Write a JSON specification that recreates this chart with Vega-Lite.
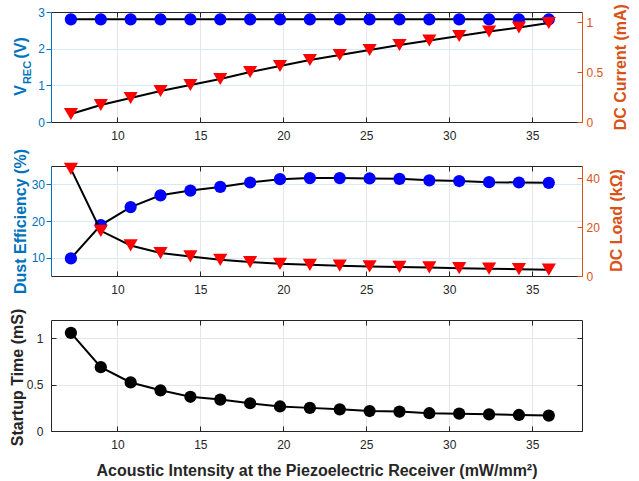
{
  "$schema": "https://vega.github.io/schema/vega-lite/v6.json",
  "background": "white",
  "padding": {"left": 9, "top": 3, "right": 5, "bottom": 4},
  "datasets": {
    "d": [
      {"x": 7.2, "vrec": 2.8, "current": 0.08, "eff": 9.8, "load": 43.8, "startup": 1.06},
      {"x": 9.0, "vrec": 2.8, "current": 0.17, "eff": 18.9, "load": 18.5, "startup": 0.69},
      {"x": 10.8, "vrec": 2.8, "current": 0.24, "eff": 23.8, "load": 12.5, "startup": 0.525},
      {"x": 12.6, "vrec": 2.8, "current": 0.31, "eff": 27.0, "load": 9.4, "startup": 0.44},
      {"x": 14.4, "vrec": 2.8, "current": 0.37, "eff": 28.3, "load": 8.0, "startup": 0.37},
      {"x": 16.2, "vrec": 2.8, "current": 0.43, "eff": 29.3, "load": 6.6, "startup": 0.34},
      {"x": 18.0, "vrec": 2.8, "current": 0.50, "eff": 30.5, "load": 5.7, "startup": 0.30},
      {"x": 19.8, "vrec": 2.8, "current": 0.56, "eff": 31.4, "load": 5.0, "startup": 0.265},
      {"x": 21.6, "vrec": 2.8, "current": 0.62, "eff": 31.7, "load": 4.6, "startup": 0.25},
      {"x": 23.4, "vrec": 2.8, "current": 0.67, "eff": 31.7, "load": 4.2, "startup": 0.234},
      {"x": 25.2, "vrec": 2.8, "current": 0.72, "eff": 31.6, "load": 3.9, "startup": 0.216},
      {"x": 27.0, "vrec": 2.8, "current": 0.77, "eff": 31.5, "load": 3.7, "startup": 0.21},
      {"x": 28.8, "vrec": 2.8, "current": 0.815, "eff": 31.1, "load": 3.5, "startup": 0.192},
      {"x": 30.6, "vrec": 2.8, "current": 0.86, "eff": 30.9, "load": 3.2, "startup": 0.187},
      {"x": 32.4, "vrec": 2.8, "current": 0.905, "eff": 30.6, "load": 3.0, "startup": 0.18},
      {"x": 34.2, "vrec": 2.8, "current": 0.945, "eff": 30.5, "load": 2.8, "startup": 0.173},
      {"x": 36.0, "vrec": 2.8, "current": 0.99, "eff": 30.4, "load": 2.6, "startup": 0.167}
    ]
  },
  "data": {"name": "d"},
  "spacing": 44,
  "bounds": "flush",
  "vconcat": [
    {
      "width": 531,
      "height": 110,
      "layer": [
        {
          "mark": {"type": "line", "color": "black", "strokeWidth": 2},
          "encoding": {
            "x": {"field": "x", "type": "quantitative", "scale": {"domain": [6, 38], "nice": false, "zero": false},
              "axis": {"orient": "bottom", "values": [10, 15, 20, 25, 30, 35], "title": null, "labelColor": "#262626", "labelFlush": false, "tickSize": -5, "tickColor": "#262626", "domainColor": "#262626", "labelPadding": 13, "grid": true, "gridColor": "#e6e6e6"}},
            "y": {"field": "vrec", "type": "quantitative", "scale": {"domain": [0, 3], "nice": false, "zero": false},
              "axis": {"orient": "left", "values": [0, 1, 2, 3], "format": "d", "title": "V\u00a0\u00a0\u00a0\u00a0\u00a0\u00a0(V)", "titleColor": "#0072BD", "titleAngle": -90, "titleX": -30.3, "titleY": 54, "titleAlign": "center", "titleBaseline": "middle", "labelColor": "#0072BD", "tickColor": "#0072BD", "domainColor": "#0072BD", "tickSize": 5, "labelPadding": 1.5, "grid": true, "gridColor": "#d9e9f5"}}
          }
        },
        {
          "mark": {"type": "point", "shape": "circle", "filled": true, "size": 150, "color": "#0000ff", "opacity": 1},
          "encoding": {
            "x": {"field": "x", "type": "quantitative", "scale": {"domain": [6, 38], "nice": false, "zero": false},
              "axis": {"orient": "top", "values": [10, 15, 20, 25, 30, 35], "labels": false, "title": null, "tickSize": -5, "tickColor": "#262626", "domainColor": "#262626", "grid": false}},
            "y": {"field": "vrec", "type": "quantitative", "scale": {"domain": [0, 3], "nice": false, "zero": false},
              "axis": {"orient": "left", "title": "REC", "titleFontSize": 11, "titleColor": "#0072BD", "titleAngle": -90, "titleX": -24, "titleY": 60, "titleAlign": "center", "titleBaseline": "middle", "labels": false, "ticks": false, "domain": false, "grid": false}}
          }
        },
        {
          "mark": {"type": "line", "color": "black", "strokeWidth": 2},
          "encoding": {
            "x": {"field": "x", "type": "quantitative", "scale": {"domain": [6, 38], "nice": false, "zero": false}, "axis": null},
            "y": {"field": "current", "type": "quantitative", "scale": {"domain": [0, 1.1], "nice": false, "zero": false},
              "axis": {"orient": "right", "values": [0, 0.5, 1], "format": ".1~f", "title": "DC Current (mA)", "titleColor": "#D95319", "titleAngle": -90, "titleX": 38.7, "titleY": 54.7, "titleAlign": "center", "titleBaseline": "middle", "labelColor": "#D95319", "tickColor": "#D95319", "domainColor": "#D95319", "tickSize": -5, "labelPadding": 9, "grid": false}}
          }
        },
        {
          "mark": {"type": "point", "shape": "triangle-down", "filled": true, "size": 200, "color": "#ff0000", "opacity": 1},
          "encoding": {
            "x": {"field": "x", "type": "quantitative", "scale": {"domain": [6, 38], "nice": false, "zero": false}, "axis": null},
            "y": {"field": "current", "type": "quantitative", "scale": {"domain": [0, 1.1], "nice": false, "zero": false}, "axis": null}
          }
        }
      ],
      "resolve": {"scale": {"y": "independent"}}
    },
    {
      "width": 531,
      "height": 110,
      "layer": [
        {
          "mark": {"type": "line", "color": "black", "strokeWidth": 2},
          "encoding": {
            "x": {"field": "x", "type": "quantitative", "scale": {"domain": [6, 38], "nice": false, "zero": false},
              "axis": {"orient": "bottom", "values": [10, 15, 20, 25, 30, 35], "title": null, "labelColor": "#262626", "labelFlush": false, "tickSize": -5, "tickColor": "#262626", "domainColor": "#262626", "labelPadding": 13, "grid": true, "gridColor": "#e6e6e6"}},
            "y": {"field": "eff", "type": "quantitative", "scale": {"domain": [5, 35], "nice": false, "zero": false},
              "axis": {"orient": "left", "values": [10, 20, 30], "format": "d", "title": "Dust Efficiency (%)", "titleColor": "#0072BD", "titleAngle": -90, "titleX": -30.3, "titleY": 55, "titleAlign": "center", "titleBaseline": "middle", "labelColor": "#0072BD", "tickColor": "#0072BD", "domainColor": "#0072BD", "tickSize": 5, "labelPadding": 1.5, "grid": true, "gridColor": "#d9e9f5"}}
          }
        },
        {
          "mark": {"type": "point", "shape": "circle", "filled": true, "size": 150, "color": "#0000ff", "opacity": 1},
          "encoding": {
            "x": {"field": "x", "type": "quantitative", "scale": {"domain": [6, 38], "nice": false, "zero": false},
              "axis": {"orient": "top", "values": [10, 15, 20, 25, 30, 35], "labels": false, "title": null, "tickSize": -5, "tickColor": "#262626", "domainColor": "#262626", "grid": false}},
            "y": {"field": "eff", "type": "quantitative", "scale": {"domain": [5, 35], "nice": false, "zero": false}, "axis": null}
          }
        },
        {
          "mark": {"type": "line", "color": "black", "strokeWidth": 2},
          "encoding": {
            "x": {"field": "x", "type": "quantitative", "scale": {"domain": [6, 38], "nice": false, "zero": false}, "axis": null},
            "y": {"field": "load", "type": "quantitative", "scale": {"domain": [0, 45], "nice": false, "zero": false},
              "axis": {"orient": "right", "values": [0, 20, 40], "format": "d", "title": "DC Load (kΩ)", "titleColor": "#D95319", "titleAngle": -90, "titleX": 34.5, "titleY": 54, "titleAlign": "center", "titleBaseline": "middle", "labelColor": "#D95319", "tickColor": "#D95319", "domainColor": "#D95319", "tickSize": -5, "labelPadding": 9, "grid": false}}
          }
        },
        {
          "mark": {"type": "point", "shape": "triangle-down", "filled": true, "size": 200, "color": "#ff0000", "opacity": 1},
          "encoding": {
            "x": {"field": "x", "type": "quantitative", "scale": {"domain": [6, 38], "nice": false, "zero": false}, "axis": null},
            "y": {"field": "load", "type": "quantitative", "scale": {"domain": [0, 45], "nice": false, "zero": false}, "axis": null}
          }
        }
      ],
      "resolve": {"scale": {"y": "independent"}}
    },
    {
      "width": 531,
      "height": 111,
      "layer": [
        {
          "mark": {"type": "line", "color": "black", "strokeWidth": 2},
          "encoding": {
            "x": {"field": "x", "type": "quantitative", "scale": {"domain": [6, 38], "nice": false, "zero": false},
              "axis": {"orient": "bottom", "values": [10, 15, 20, 25, 30, 35], "title": "Acoustic Intensity at the Piezoelectric Receiver (mW/mm²)", "titleColor": "#262626", "titleY": 44, "titleBaseline": "alphabetic", "labelColor": "#262626", "labelFlush": false, "tickSize": -5, "tickColor": "#262626", "domainColor": "#262626", "labelPadding": 13, "grid": true, "gridColor": "#e6e6e6"}},
            "y": {"field": "startup", "type": "quantitative", "scale": {"domain": [0, 1.2], "nice": false, "zero": false},
              "axis": {"orient": "left", "values": [0, 0.5, 1], "format": ".1~f", "title": "Startup Time (mS)", "titleColor": "#262626", "titleAngle": -90, "titleX": -33.7, "titleY": 57, "titleAlign": "center", "titleBaseline": "middle", "labelColor": "#262626", "tickColor": "#262626", "domainColor": "#262626", "tickSize": -5, "labelPadding": 13, "grid": true, "gridColor": "#e6e6e6"}}
          }
        },
        {
          "mark": {"type": "point", "shape": "circle", "filled": true, "size": 150, "color": "#000000", "opacity": 1},
          "encoding": {
            "x": {"field": "x", "type": "quantitative", "scale": {"domain": [6, 38], "nice": false, "zero": false},
              "axis": {"orient": "top", "values": [10, 15, 20, 25, 30, 35], "labels": false, "title": null, "tickSize": -5, "tickColor": "#262626", "domainColor": "#262626", "grid": false}},
            "y": {"field": "startup", "type": "quantitative", "scale": {"domain": [0, 1.2], "nice": false, "zero": false},
              "axis": {"orient": "right", "values": [0, 0.5, 1], "labels": false, "title": null, "tickSize": -5, "tickColor": "#262626", "domainColor": "#262626", "grid": false}}
          }
        }
      ]
    }
  ],
  "config": {
    "font": "Liberation Sans",
    "view": {"stroke": null},
    "axis": {
      "labelFont": "Liberation Sans",
      "titleFont": "Liberation Sans",
      "labelFontSize": 12,
      "titleFontSize": 16,
      "titleFontWeight": "bold",
      "domainWidth": 1,
      "tickWidth": 1,
      "gridWidth": 1
    }
  }
}
